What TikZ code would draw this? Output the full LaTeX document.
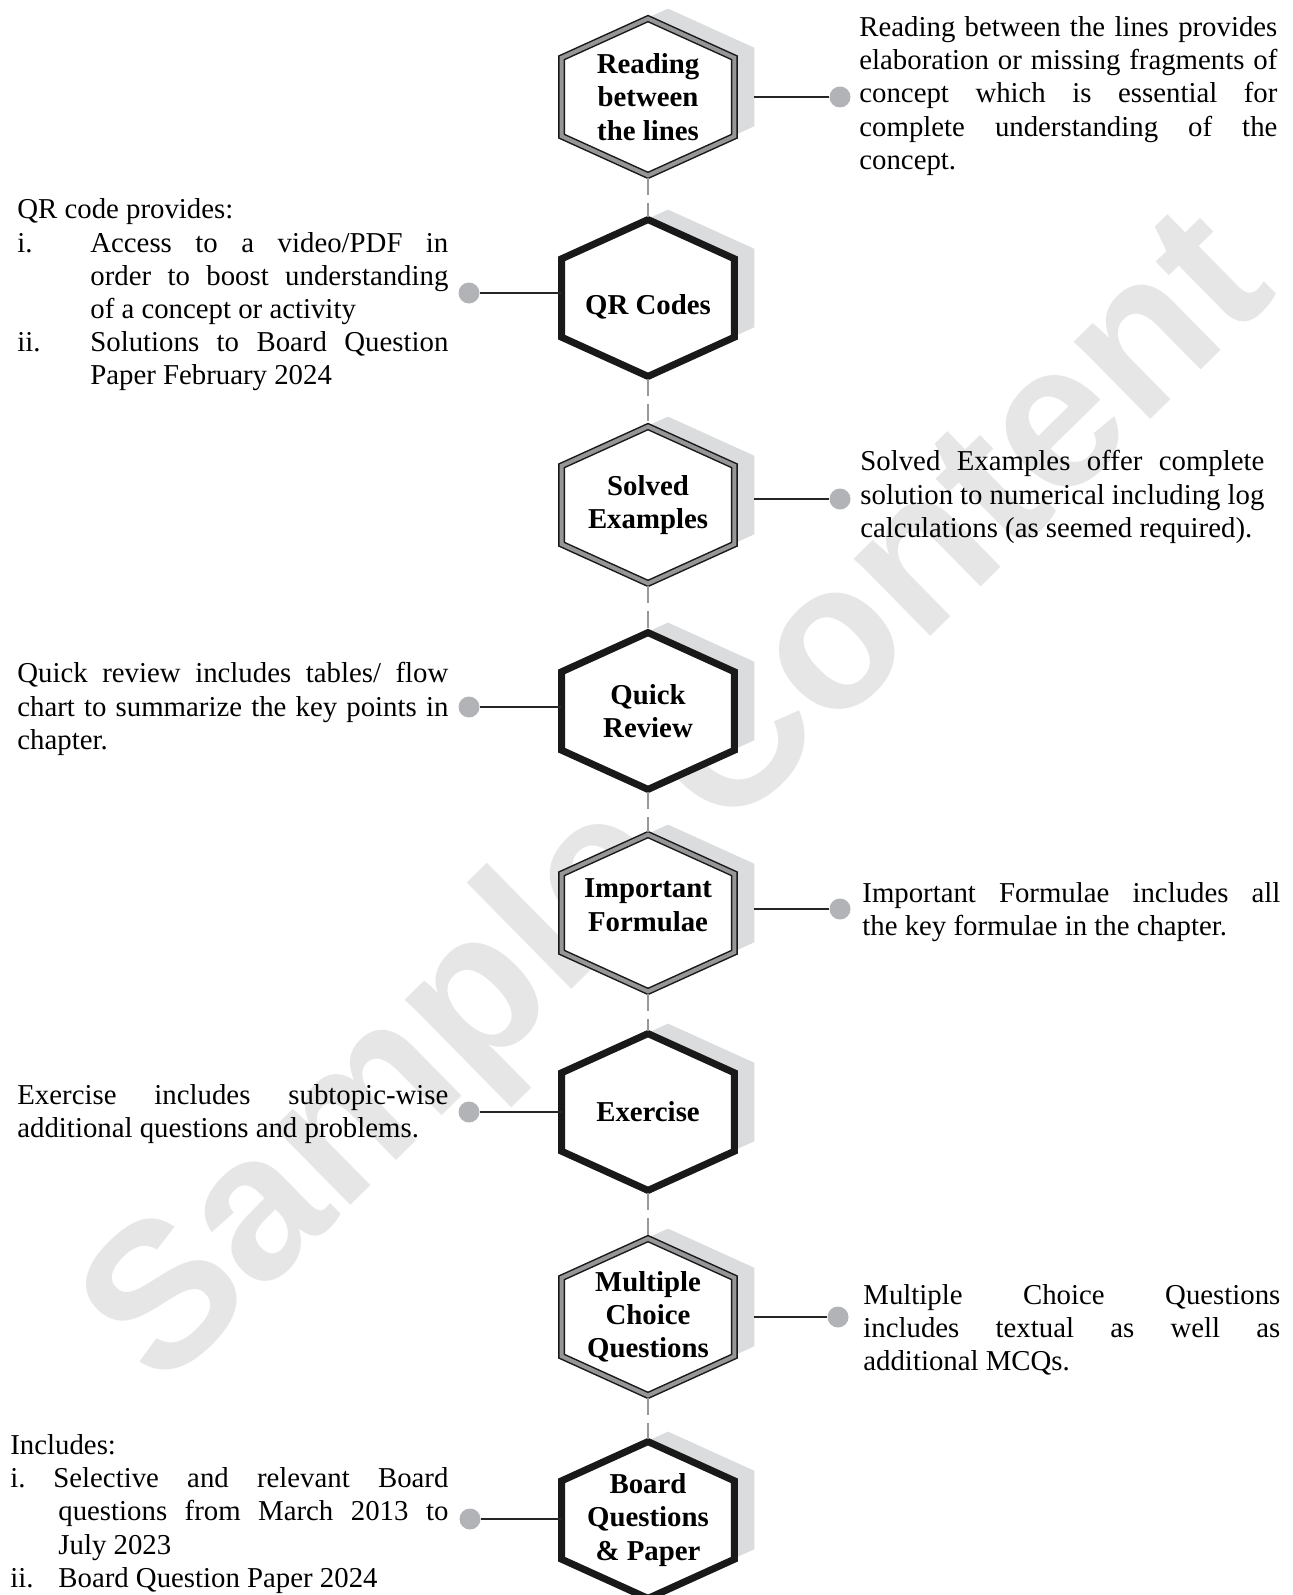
\documentclass[tikz,border=0pt]{standalone}
\usepackage{fontspec}
\setmainfont{Liberation Serif}
\newfontfamily\markfont{Liberation Sans}
\usetikzlibrary{calc,backgrounds}

\definecolor{shade}{RGB}{219,220,222}
\definecolor{dotgray}{RGB}{178,179,183}
\definecolor{bandgray}{RGB}{150,150,152}
\definecolor{markgray}{RGB}{230,230,230}

\newcommand\hexpath[1]{(#1.north) -- ($(#1.north east)!.5!(#1.east)$) -- ($(#1.south east)!.5!(#1.east)$) -- (#1.south) -- ($(#1.south west)!.5!(#1.west)$) -- ($(#1.north west)!.5!(#1.west)$) -- cycle}

\tikzset{
  hexlabel/.style={minimum width=86pt, minimum height=78pt, inner sep=0pt, align=center, font=\fontsize{14.4}{16.6}\selectfont\bfseries},
  desc/.style={text width=#1, inner sep=0pt, align=justify, anchor=west, font=\fontsize{14.4}{16.6}\selectfont},
  dot/.style={circle, fill=dotgray, minimum size=10.5pt, inner sep=0pt},
  link/.style={draw=black!85, line width=0.6pt},
  vlink/.style={draw=black!40, line width=0.6pt, dash pattern=on 8.5pt off 4pt, shorten <=1.5pt, shorten >=1.5pt},
  thickhex/.style={draw=black!90, line width=3.5pt, fill=white},
  doublehex/.style={draw=black!90, line width=0.75pt, double=bandgray, double distance=2pt, fill=white},
  hexshadow/.style={fill=shade, transform canvas={shift={(10pt,5pt)}}}
}

\begin{document}
\begin{tikzpicture}[x=0.5pt, y=-0.5pt]
\useasboundingbox (0,0) rectangle (1292,1595);

\node[hexlabel] (read) at (648,97) {Reading\\between\\the lines};
\node[hexlabel] (qr) at (648,298) {\rule{0pt}{19pt}QR Codes};
\node[hexlabel] (solved) at (648,505) {Solved\\Examples};
\node[hexlabel] (quick) at (648,711) {Quick\\Review};
\node[hexlabel] (formulae) at (648,913) {Important\\Formulae\rule[-8pt]{0pt}{0pt}};
\node[hexlabel] (exercise) at (648,1112) {Exercise};
\node[hexlabel] (mcq) at (648,1317) {Multiple\\Choice\\Questions};
\node[hexlabel] (board) at (648,1520) {Board\\Questions\\\& Paper};

\begin{scope}[on background layer]
  \node[rotate=44.5, text=markgray, font=\markfont\bfseries\fontsize{103}{103}\selectfont] (mark) at (683,805) {Sample Content};
  \foreach \h in {read,qr,solved,quick,formulae,exercise,mcq,board}
    \path[hexshadow] \hexpath{\h};
  \foreach \h in {read,solved,formulae,mcq}
    \path[doublehex] \hexpath{\h};
  \foreach \h in {qr,quick,exercise,board}
    \path[thickhex] \hexpath{\h};
\end{scope}

\foreach \a/\b in {read/qr,qr/solved,solved/quick,quick/formulae,formulae/exercise,exercise/mcq,mcq/board}
  \draw[vlink] (\a.south) -- (\b.north);

\node[dot] (readdot) at (840,97) {};
\node[dot] (qrdot) at (469,293) {};
\node[dot] (solveddot) at (840,499) {};
\node[dot] (quickdot) at (469,707) {};
\node[dot] (formulaedot) at (840,909) {};
\node[dot] (exercisedot) at (469,1112) {};
\node[dot] (mcqdot) at (838,1317) {};
\node[dot] (boarddot) at (470,1519) {};

\foreach \h in {read,solved,formulae,mcq}
  \draw[link, shorten >=10pt] (\h dot) -- (\h dot -| \h.east);
\foreach \h in {qr,quick,exercise,board}
  \draw[link] (\h dot) -- (\h dot -| \h.west);

\node[desc=209pt] (readtext) at (859,96) {Reading between the lines provides\linebreak elaboration or missing fragments of\linebreak concept which is essential for\linebreak complete understanding of the\linebreak concept.\par};
\node[desc=215.5pt] (qrtext) at (17,295) {QR code provides:\par
  \hangindent=36.5pt\makebox[36.5pt][l]{i.}Access to a video/PDF in\linebreak order to boost understanding\linebreak of a concept or activity\par
  \hangindent=36.5pt\makebox[36.5pt][l]{ii.}Solutions to Board Question\linebreak Paper February 2024\par};
\node[desc=202pt] (solvedtext) at (860,497) {Solved Examples offer complete\linebreak solution to numerical including log\linebreak calculations (as seemed required).\par};
\node[desc=215.5pt] (quicktext) at (17,709) {Quick review includes tables/ flow\linebreak chart to summarize the key points in\linebreak chapter.\par};
\node[desc=209pt] (formulaetext) at (862,912) {Important Formulae includes all\linebreak the key formulae in the chapter.\par};
\node[desc=215.5pt] (exercisetext) at (17,1114) {Exercise includes subtopic-wise\linebreak additional questions and problems.\par};
\node[desc=208.5pt] (mcqtext) at (863,1330) {Multiple Choice Questions\linebreak includes textual as well as\linebreak additional MCQs.\par};
\node[desc=219pt] (boardtext) at (10,1514) {Includes:\par
  \hangindent=24pt\makebox[21.5pt][l]{i.}Selective and relevant Board\linebreak questions from March 2013 to\linebreak July 2023\par
  \hangindent=24pt\makebox[24pt][l]{ii.}Board Question Paper 2024\par};
\end{tikzpicture}
\end{document}
